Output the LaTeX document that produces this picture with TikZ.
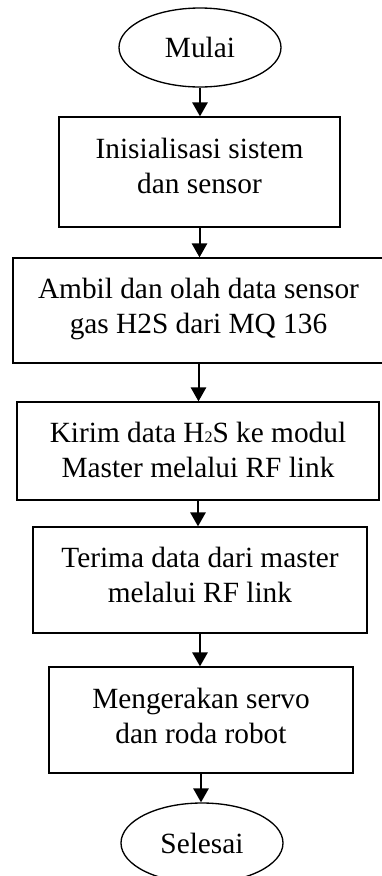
\documentclass[tikz,border=0pt]{standalone}
\usepackage{fontspec}
\setmainfont{Liberation Serif}
\usetikzlibrary{shapes.geometric,arrows.meta}
\begin{document}
\begin{tikzpicture}[x=0.75pt,y=-0.75pt,
  every node/.style={font=\fontsize{22}{26.3}\selectfont},
  procbox/.style={draw, line width=1pt, inner sep=0pt},
  termbox/.style={draw, ellipse, line width=1pt, inner sep=0pt},
  txt/.style={align=center, inner sep=0pt},
  arr/.style={line width=1.5pt, -{Triangle[length=10.5pt,width=11.5pt]}}]
\useasboundingbox (0,0) rectangle (382,876);
\node[termbox, minimum width=121.5pt, minimum height=59.25pt] (e1) at (200,47.5) {Mulai};
\node[procbox, minimum width=210.75pt, minimum height=82.5pt] (b1) at (199.5,172) {};
\node[txt] (t1) at (199.5,166) {Inisialisasi sistem\\dan sensor};
\node[procbox, minimum width=278.25pt, minimum height=78.75pt] (b2) at (198.5,310.5) {};
\node[txt] (t2) at (198.5,309) {Ambil dan olah data sensor\\gas H2S dari MQ 136};
\node[procbox, minimum width=271.5pt, minimum height=73.5pt] (b3) at (198,451) {};
\node[txt] (t3) at (198,450) {Kirim data H{\fontsize{12}{12}\selectfont 2}S ke modul\\Master melalui RF link};
\node[procbox, minimum width=250.5pt, minimum height=79.5pt] (b4) at (200,580) {};
\node[txt] (t4) at (200,575) {Terima data dari master\\melalui RF link};
\node[procbox, minimum width=228pt, minimum height=79.5pt] (b5) at (201,720) {};
\node[txt] (t5) at (201,716) {Mengerakan servo\\dan roda robot};
\node[termbox, minimum width=121.5pt, minimum height=60pt] (e2) at (202,843) {Selesai};
\draw[arr] (e1.south) -- (e1.south |- b1.north);
\draw[arr] (b1.south) -- (b1.south |- b2.north);
\draw[arr] (b2.south) -- (b2.south |- b3.north);
\draw[arr] (b3.south) -- (b3.south |- b4.north);
\draw[arr] (b4.south) -- (b4.south |- b5.north);
\draw[arr] (b5.south) -- (b5.south |- e2.north);
\end{tikzpicture}
\end{document}
